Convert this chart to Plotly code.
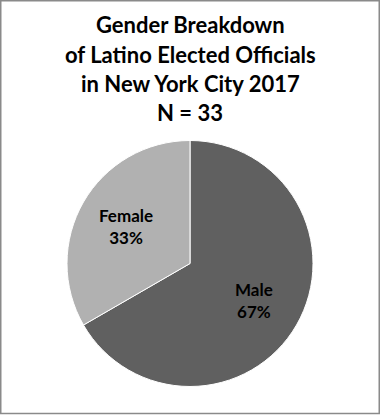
import math
import plotly.graph_objects as go

categories = ["Male", "Female"]
counts = [22, 11]
colors = ["#606060", "#b1b1b1"]
title_lines = ["Gender Breakdown", "of Latino Elected Officials", "in New York City 2017", "N = 33"]

W, H = 380, 415
cx, cy, R = 190, 263.5, 123

fig = go.Figure(go.Pie(
    labels=categories,
    values=counts,
    sort=False,
    direction="clockwise",
    rotation=0,
    marker=dict(colors=colors, line=dict(color="white", width=1)),
    textinfo="none",
    hoverinfo="label+value+percent",
    showlegend=False,
    domain=dict(x=[(cx - R) / W, (cx + R) / W], y=[(H - cy - R) / H, (H - cy + R) / H]),
))

annotations = []
for i, line in enumerate(title_lines):
    annotations.append(dict(
        text=f"<b>{line}</b>", x=0.5, xref="paper", xanchor="center",
        y=1 - (25 + i * 29.3) / H, yref="paper", yanchor="middle",
        showarrow=False, font=dict(family="Lato", size=22, color="black"),
    ))

total = sum(counts)
start = 0.0
for lab, v in zip(categories, counts):
    frac = v / total
    mid = math.radians((start + frac / 2) * 360)
    start += frac
    r = 0.6 * R
    px = cx + r * math.sin(mid)
    py = cy - r * math.cos(mid)
    annotations.append(dict(
        text=f"<b>{lab}<br>{round(frac * 100)}%</b>",
        x=px / W, y=1 - py / H, xref="paper", yref="paper",
        xanchor="center", yanchor="middle", showarrow=False,
        font=dict(family="Lato", size=17, color="black"),
    ))

fig.update_layout(
    width=W, height=H,
    margin=dict(l=0, r=0, t=0, b=0),
    paper_bgcolor="white", plot_bgcolor="white",
    annotations=annotations,
    shapes=[dict(type="rect", xref="paper", yref="paper",
                 x0=0.75 / W, x1=1 - 0.75 / W, y0=1.5 / H, y1=1 - 0.75 / H,
                 line=dict(color="#8a8a8a", width=1.5))],
)

fig.write_html("out.html", config={"displayModeBar": False},
               post_script="document.body.style.margin='0';document.body.style.overflow='hidden';")
